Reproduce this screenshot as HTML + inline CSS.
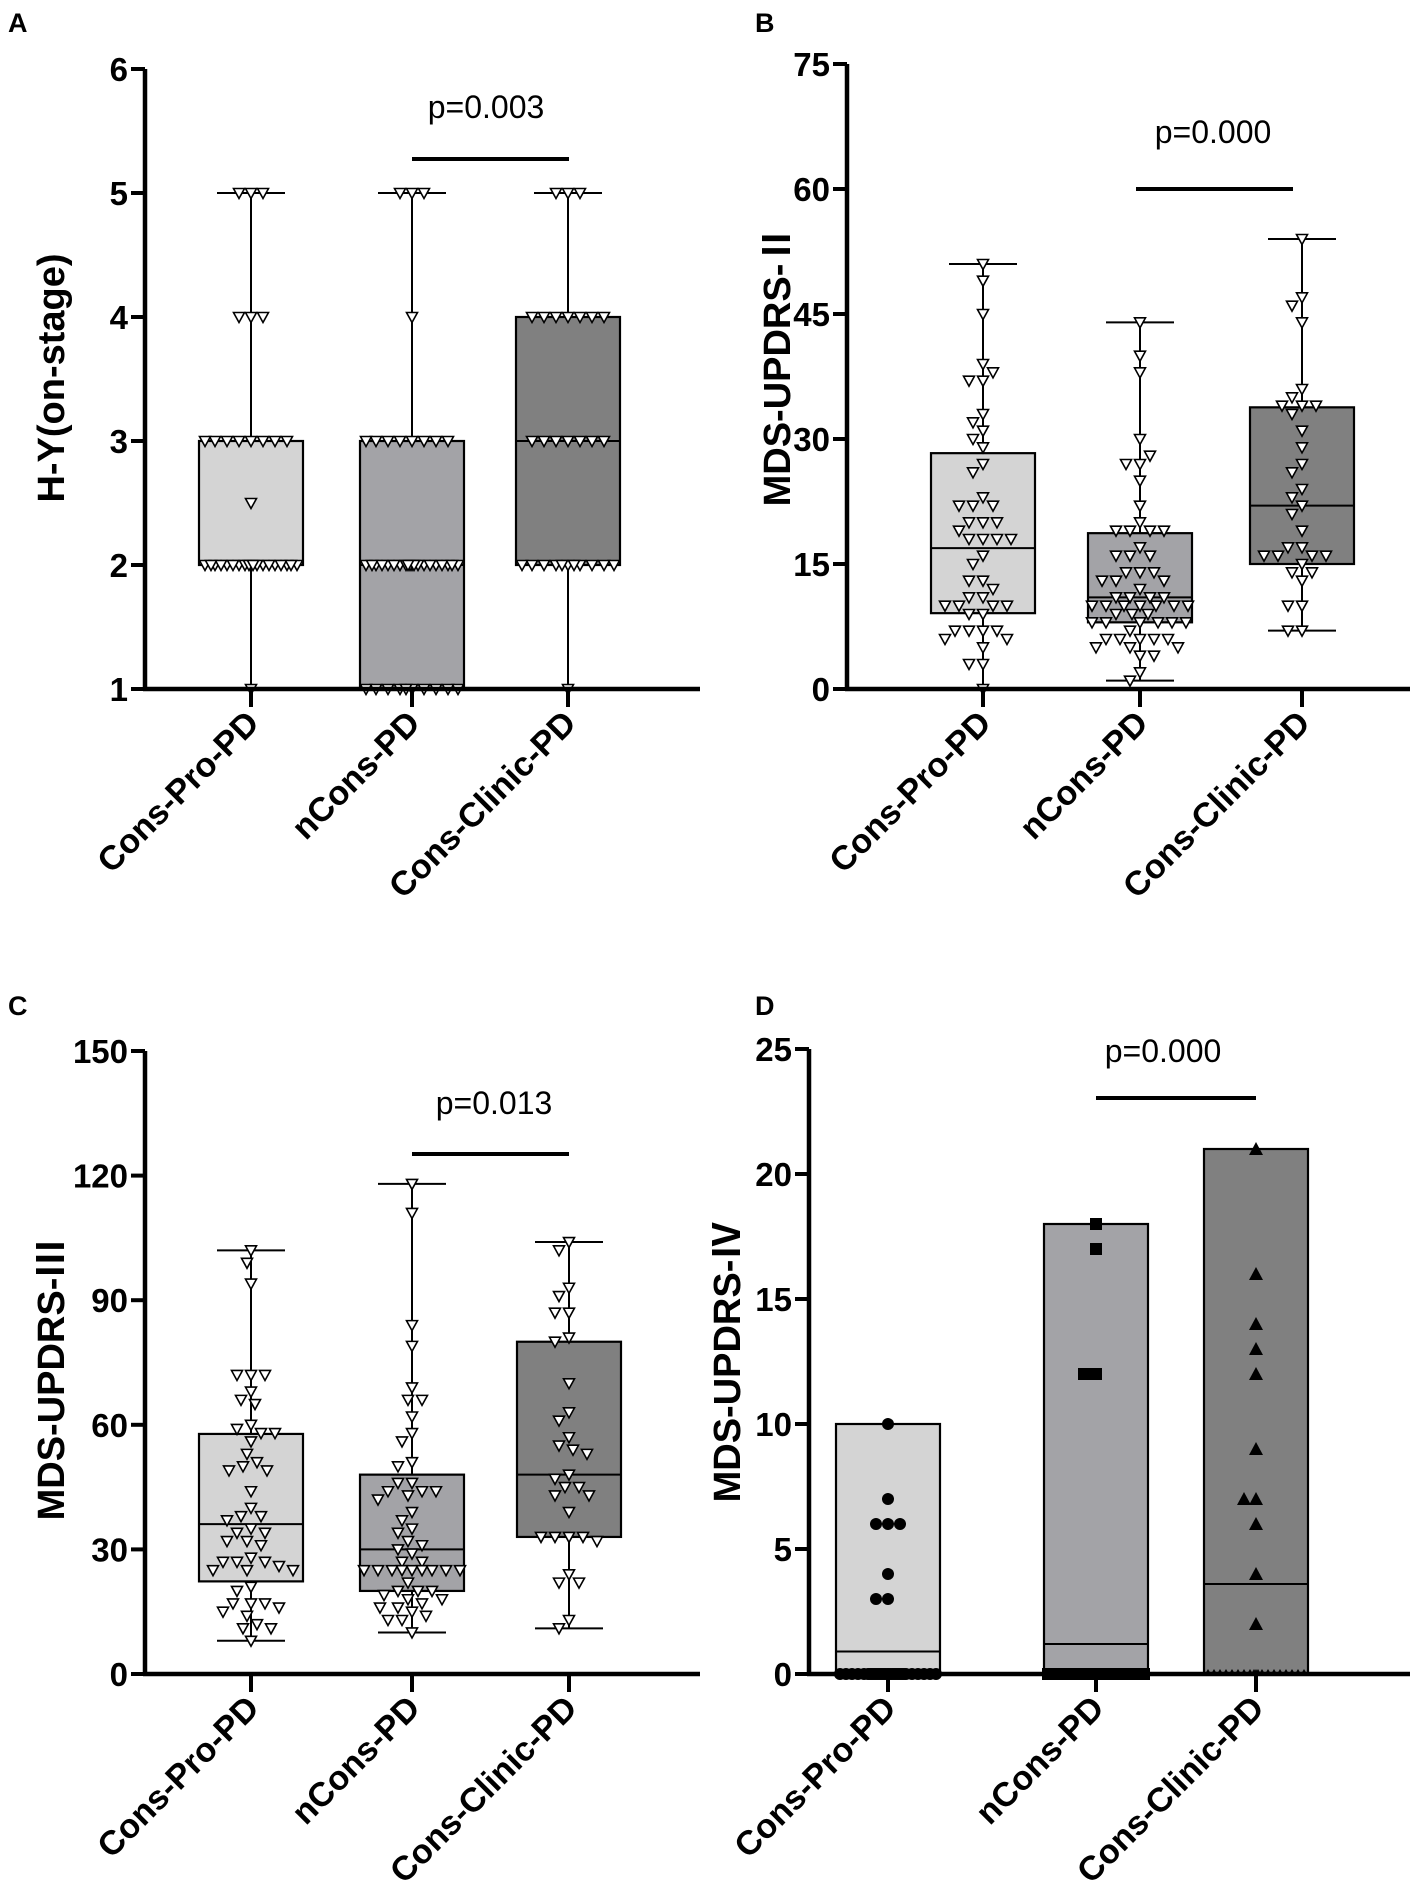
<!DOCTYPE html>
<html><head><meta charset="utf-8"><style>
html,body{margin:0;padding:0;background:#fff;}
svg{display:block;}
text{font-family:"Liberation Sans","Noto Sans CJK SC",sans-serif;}
</style></head><body>
<svg id="fig" width="1417" height="1898" viewBox="0 0 1417 1898" xmlns="http://www.w3.org/2000/svg"></svg>
<script>
// ---------- shared data ----------
const categories = ["Cons-Pro-PD", "nCons-PD", "Cons-Clinic-PD"];
const fills = ["#d4d4d4", "#a3a3a7", "#808080"];

// Panel A: H-Y(on-stage)
const aTicks = [1, 2, 3, 4, 5, 6];
const aBoxMin = [1, 1, 1];
const aBoxQ1 = [2, 1, 2];
const aBoxMed = [2, 2, 3];
const aBoxQ3 = [3, 3, 4];
const aBoxMax = [5, 5, 5];
const aPts0 = [5,5,5,4,4,4,3,3,3,3,3,3,3,3,2.5,2,2,2,2,2,2,2,2,2,2,2,2,2,2,2,2,2,2,2,1];
const aPts1 = [5,5,5,4,3,3,3,3,3,3,3,3,2,2,2,2,2,2,2,2,2,2,2,2,2,2,2,2,2,2,2,2,1,1,1,1,1,1,1,1,1,1];
const aPts2 = [5,5,5,4,4,4,4,4,4,4,3,3,3,3,3,3,3,2,2,2,2,2,2,2,2,2,2,2,1];

// Panel B: MDS-UPDRS-II
const bTicks = [0, 15, 30, 45, 60, 75];
const bBoxMin = [0, 1, 7];
const bBoxQ1 = [9.1, 8, 15];
const bBoxMed = [16.9, 11, 22];
const bBoxQ3 = [28.3, 18.7, 33.8];
const bBoxMax = [51, 44, 54];
const bPts0 = [51,49,45,39,37,37,38,33,32,31,30,29,27,26,23,22,22,22,20,20,20,19,18,18,18,18,16,15,13,13,12,11,11,10,10,10,10,9,9,7,7,7,7,6,6,5,3,3,0];
const bPts1 = [44,40,38,30,27,27,28,25,22,20,19,19,19,19,17,16,16,16,14,14,14,13,13,13,12,11,11,11,11,10,10,10,10,10,10,10,9,9,9,8,8,8,8,8,8,7,6,6,6,6,6,5,5,5,4,4,2,1];
const bPts2 = [54,47,46,44,36,35,34,34,34,33,31,29,27,26,24,23,22,21,19,17,17,16,16,16,16,15,14,14,13,10,10,7,7];

// Panel C: MDS-UPDRS-III
const cTicks = [0, 30, 60, 90, 120, 150];
const cBoxMin = [8, 10, 11];
const cBoxQ1 = [22.3, 20, 33];
const cBoxMed = [36.1, 30, 48];
const cBoxQ3 = [57.8, 48, 80];
const cBoxMax = [102, 118, 104];
const cPts0 = [102,99,94,72,72,72,68,66,65,60,59,58,58,56,53,51,50,49,49,44,40,38,38,37,35,34,34,32,32,31,28,27,27,27,26,25,25,25,21,20,17,17,17,16,15,14,12,11,11,8];
const cPts1 = [118,111,84,79,69,66,66,62,58,56,51,50,46,46,44,44,44,43,42,39,37,35,34,32,31,30,29,27,27,25,25,25,25,25,25,25,25,25,22,20,20,20,19,18,18,17,16,16,15,14,13,13,10];
const cPts2 = [104,102,93,91,87,87,81,80,70,63,61,57,55,54,53,48,47,45,45,43,43,39,33,33,33,33,32,24,22,22,13,11];

// Panel D: MDS-UPDRS-IV
const dTicks = [0, 5, 10, 15, 20, 25];
const dBarTop = [10, 18, 21];
const dBarMed = [0.9, 1.2, 3.6];
const dPts0 = [10,7,6,6,6,4,3,3,0,0,0,0,0,0,0,0,0,0,0,0,0,0,0,0,0,0,0,0,0,0,0,0,0,0,0,0,0,0];
const dPts1 = [18,17,12,12,0,0,0,0,0,0,0,0,0,0,0,0,0,0,0,0,0,0,0,0,0,0,0,0,0,0,0,0,0,0,0,0,0,0,0,0];
const dPts2 = [21,16,14,13,12,9,7,7,6,4,2,0,0,0,0,0,0,0,0,0,0,0,0,0,0,0,0,0,0,0];

const NS = "http://www.w3.org/2000/svg";
const svg = document.getElementById("fig");
function mk(tag, attrs, parent) {
  const e = document.createElementNS(NS, tag);
  for (const k in attrs) e.setAttribute(k, attrs[k]);
  (parent || svg).appendChild(e);
  return e;
}

function layoutX(vals, ys, maxOff, minD) {
  const placed = [];
  const offs = [];
  for (let i = 0; i < vals.length; i++) {
    const y = ys[i];
    let best = null, bestScore = -1e9;
    for (let o = 0; o <= maxOff; o += 2) {
      for (const s of (o === 0 ? [1] : [-1, 1])) {
        const off = o * s;
        let md = 1e9;
        for (const p of placed) {
          const d = Math.hypot(p[0] - off, p[1] - y);
          if (d < md) md = d;
        }
        let score = md >= minD ? 1000 - Math.abs(off) : md;
        if (score > bestScore) { bestScore = score; best = off; }
      }
    }
    placed.push([best, y]);
    offs.push(best);
  }
  return offs;
}

function drawAxes(g, cfg) {
  const {ax, xEnd, ticks, yScale, cats, label, labelX, labelY, letter, lx, ly} = cfg;
  const t = mk("text", {x: lx, y: ly, "font-size": 27, "font-weight": "bold"}, g);
  t.textContent = letter;
  
  
  const yl = mk("text", {x: labelX, y: labelY, "font-size": 38, "font-weight": "bold", "text-anchor": "middle", transform: `rotate(-90 ${labelX} ${labelY})`}, g);
  yl.textContent = label;
  
  
  const yax = mk("line", {x1: ax, x2: ax, y1: yScale(ticks[ticks.length-1]), y2: yScale(ticks[0]) + 2, stroke: "#000", "stroke-width": 4.5}, g);
  
  
  for (const tv of ticks) {
    const y = yScale(tv);
    const tl = mk("line", {x1: ax - 14, x2: ax, y1: y, y2: y, stroke: "#000", "stroke-width": 4}, g);
    
    
    const tx = mk("text", {x: ax - 17, y: y + 12, "font-size": 33, "font-weight": "bold", "text-anchor": "end"}, g);
    tx.textContent = tv;
    
    
  }
  const base = yScale(ticks[0]);
  const xax = mk("line", {x1: ax - 2, x2: xEnd, y1: base, y2: base, stroke: "#000", "stroke-width": 4.5}, g);
  
  
  cats.forEach((cx, i) => {
    const tk = mk("line", {x1: cx, x2: cx, y1: base, y2: base + 18, stroke: "#000", "stroke-width": 4}, g);
    
    
    const lx2 = cx + 10, ly2 = base + 36;
    const cl = mk("text", {x: lx2, y: ly2, "font-size": 34, "font-weight": "bold", "text-anchor": "end", transform: `rotate(-45 ${lx2} ${ly2})`}, g);
    cl.textContent = categories[i];
    
    
  });
}

function drawSig(g, x1, x2, y, tx, ty, txt) {
  const l = mk("line", {x1: x1, x2: x2, y1: y, y2: y, stroke: "#000", "stroke-width": 4}, g);
  
  
  const t = mk("text", {x: tx, y: ty, "font-size": 32, "text-anchor": "middle"}, g);
  t.textContent = txt;
  
  
}

function triDown(g, x, y) {
  const s = 5.5;
  const p = mk("polygon", {points: `${x-s},${y-s+1} ${x+s},${y-s+1} ${x},${y+s}`, fill: "#fff", stroke: "#000", "stroke-width": 1.6}, g);
  
  
}

function boxPanel(cfg, mins, q1s, meds, q3s, maxs, ptsList) {
  const g = mk("g", {});
  
  
  const ys = v => cfg.y0 + (v - cfg.ticks[0]) / (cfg.ticks[cfg.ticks.length-1] - cfg.ticks[0]) * (cfg.y1 - cfg.y0);
  cfg.yScale = ys;
  const bw = 104, cw = 52;
  cfg.cats.forEach((cx, i) => {
    const wl = mk("line", {x1: cx, x2: cx, y1: ys(maxs[i]), y2: ys(mins[i]), stroke: "#000", "stroke-width": 2}, g);
    
    
    for (const v of [maxs[i], mins[i]]) {
      const c = mk("line", {x1: cx - cw/2 - 8, x2: cx + cw/2 + 8, y1: ys(v), y2: ys(v), stroke: "#000", "stroke-width": 2}, g);
      
      
    }
    const r = mk("rect", {x: cx - bw/2, y: ys(q3s[i]), width: bw, height: ys(q1s[i]) - ys(q3s[i]), fill: fills[i], stroke: "#000", "stroke-width": 2.2}, g);
    
    
    const m = mk("line", {x1: cx - bw/2, x2: cx + bw/2, y1: ys(meds[i]), y2: ys(meds[i]), stroke: "#000", "stroke-width": 2}, g);
    
    
    const vals = ptsList[i];
    const yv = vals.map(ys);
    const offs = layoutX(vals, yv, cfg.maxOff, cfg.minD);
    vals.forEach((v, k) => triDown(g, cx + offs[k], yv[k]));
  });
  drawAxes(g, cfg);
  return g;
}

// Panel A
const gA = boxPanel({name: "panel-a-hy-stage", ax: 145, y0: 689, y1: 69, xEnd: 700, ticks: aTicks, cats: [251, 412, 568],
  label: "H-Y(on-stage)", labelX: 64, labelY: 378, letter: "A", lx: 8, ly: 32, maxOff: 46, minD: 12},
  aBoxMin, aBoxQ1, aBoxMed, aBoxQ3, aBoxMax, [aPts0, aPts1, aPts2]);
drawSig(gA, 412, 569, 159, 486, 118, "p=0.003");

// Panel B
const gB = boxPanel({name: "panel-b-updrs-ii", ax: 847, y0: 689, y1: 64, xEnd: 1410, ticks: bTicks, cats: [983, 1140, 1302],
  label: "MDS-UPDRS-Ⅱ", labelX: 790, labelY: 366, letter: "B", lx: 755, ly: 32, maxOff: 54, minD: 13},
  bBoxMin, bBoxQ1, bBoxMed, bBoxQ3, bBoxMax, [bPts0, bPts1, bPts2]);
drawSig(gB, 1136, 1293, 189, 1213, 143, "p=0.000");

// Panel C
const gC = boxPanel({name: "panel-c-updrs-iii", ax: 145, y0: 1674, y1: 1051, xEnd: 700, ticks: cTicks, cats: [251, 412, 569],
  label: "MDS-UPDRS-Ⅲ", labelX: 64, labelY: 1380, letter: "C", lx: 8, ly: 1015, maxOff: 54, minD: 13},
  cBoxMin, cBoxQ1, cBoxMed, cBoxQ3, cBoxMax, [cPts0, cPts1, cPts2]);
drawSig(gC, 412, 569, 1154, 494, 1114, "p=0.013");

// Panel D
(function () {
  const g = mk("g", {});
  
  
  const cfg = {ax: 809, y0: 1674, y1: 1049, xEnd: 1410, ticks: dTicks, cats: [888, 1096, 1256],
    label: "MDS-UPDRS-Ⅳ", labelX: 740, labelY: 1362, letter: "D", lx: 755, ly: 1015};
  const ys = v => cfg.y0 + (v - cfg.ticks[0]) / (cfg.ticks[cfg.ticks.length-1] - cfg.ticks[0]) * (cfg.y1 - cfg.y0);
  cfg.yScale = ys;
  const bw = 104;
  const pts = [dPts0, dPts1, dPts2];
  cfg.cats.forEach((cx, i) => {
    const r = mk("rect", {x: cx - bw/2, y: ys(dBarTop[i]), width: bw, height: ys(0) - ys(dBarTop[i]), fill: fills[i], stroke: "#000", "stroke-width": 2.2}, g);
    
    
    const m = mk("line", {x1: cx - bw/2, x2: cx + bw/2, y1: ys(dBarMed[i]), y2: ys(dBarMed[i]), stroke: "#000", "stroke-width": 2}, g);
    
    
    const vals = pts[i];
    const yv = vals.map(ys);
    const offs = layoutX(vals, yv, 48, 12);
    vals.forEach((v, k) => {
      const x = cx + offs[k], y = yv[k];
      let e;
      if (i === 0) e = mk("circle", {cx: x, cy: y, r: 6, fill: "#000"}, g);
      else if (i === 1) e = mk("rect", {x: x - 6, y: y - 6, width: 12, height: 12, fill: "#000"}, g);
      else if (v === 0) e = mk("polygon", {points: `${x-3},${y} ${x+3},${y} ${x},${y-5}`, fill: "#000"}, g);
      else e = mk("polygon", {points: `${x-7},${y+6} ${x+7},${y+6} ${x},${y-7}`, fill: "#000"}, g);
      
      
    });
  });
  drawAxes(g, cfg);
  drawSig(g, 1096, 1256, 1098, 1163, 1062, "p=0.000");
})();
</script>
</body></html>
